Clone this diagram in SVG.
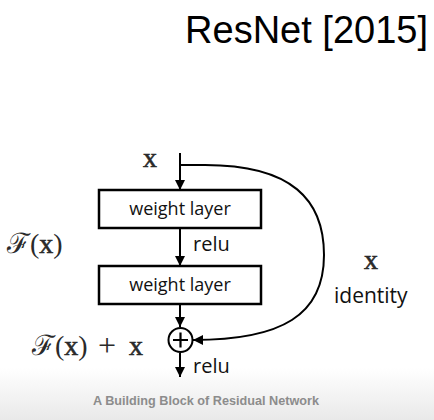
<svg xmlns="http://www.w3.org/2000/svg" width="434" height="420" viewBox="0 0 434 420">
<defs>
<linearGradient id="bg" x1="0" y1="0" x2="0" y2="1">
<stop offset="0" stop-color="#ffffff"/>
<stop offset="1" stop-color="#e9e9e9"/>
</linearGradient>
<marker id="ah" viewBox="0 0 10 10" refX="10" refY="5" markerWidth="10" markerHeight="10" markerUnits="userSpaceOnUse" orient="auto">
<path d="M0,0 L10,5 L0,10 Z" fill="#000"/>
</marker>
<style>
.box{fill:#fff;stroke:#000;stroke-width:2.5}
.ln{fill:none;stroke:#000;stroke-width:2}
.lbl{font-family:"Open Sans","Liberation Sans",sans-serif;fill:#111}
.math{font-family:"Liberation Serif","DejaVu Serif",serif;fill:#2a2a2a;font-size:28px}
.bx{stroke:#2a2a2a;stroke-width:0.6}
</style>
</defs>
<rect x="0" y="0" width="434" height="420" fill="#fff"/>
<rect x="0" y="368" width="434" height="52" fill="url(#bg)"/>
<text x="428" y="43" text-anchor="end" font-family="Liberation Sans, Arial, sans-serif" font-size="38" fill="#000">ResNet [2015]</text>
<g id="connectors">
<line class="ln" x1="180" y1="153" x2="180" y2="190" marker-end="url(#ah)"/>
<line class="ln" x1="180" y1="228" x2="180" y2="266" marker-end="url(#ah)"/>
<line class="ln" x1="180" y1="304" x2="180" y2="327" marker-end="url(#ah)"/>
<line class="ln" x1="180" y1="353" x2="180" y2="377" marker-end="url(#ah)"/>
<path class="ln" d="M180,165 H205 C292,165 324,200 324,255 C324,315 282,340 193,340" marker-end="url(#ah)"/>
</g>
<g id="layer1">
<rect class="box" x="99" y="190" width="162" height="38"/>
<text class="lbl" x="180" y="215" text-anchor="middle" font-size="18">weight layer</text>
</g>
<g id="layer2">
<rect class="box" x="99" y="266" width="162" height="38"/>
<text class="lbl" x="180" y="291" text-anchor="middle" font-size="18">weight layer</text>
</g>
<g id="sum">
<circle cx="180.5" cy="340" r="12" fill="#fff" stroke="#000" stroke-width="2"/>
<path d="M173,340 H188 M180.5,332.5 V347.5" stroke="#000" stroke-width="2.2"/>
</g>
<g id="labels">
<text class="math bx" x="143" y="167">x</text>
<text class="lbl" x="193" y="251" font-size="20">relu</text>
<text class="lbl" x="193" y="373" font-size="20">relu</text>
<text class="math" x="7" y="253">ℱ(<tspan class="bx">x</tspan>)</text>
<text class="math" x="32" y="355">ℱ(<tspan class="bx">x</tspan>)</text>
<text class="math" x="98" y="356" font-size="32px" style="font-size:32px">+</text>
<text class="math bx" x="129" y="355">x</text>
<text class="math bx" x="364" y="269">x</text>
<text class="lbl" x="334" y="303" font-size="21">identity</text>
</g>
<text x="93" y="405" font-family="Liberation Sans, Arial, sans-serif" font-size="13.5" font-weight="bold" fill="#8c8c8c" textLength="226" lengthAdjust="spacingAndGlyphs">A Building Block of Residual Network</text>
</svg>
